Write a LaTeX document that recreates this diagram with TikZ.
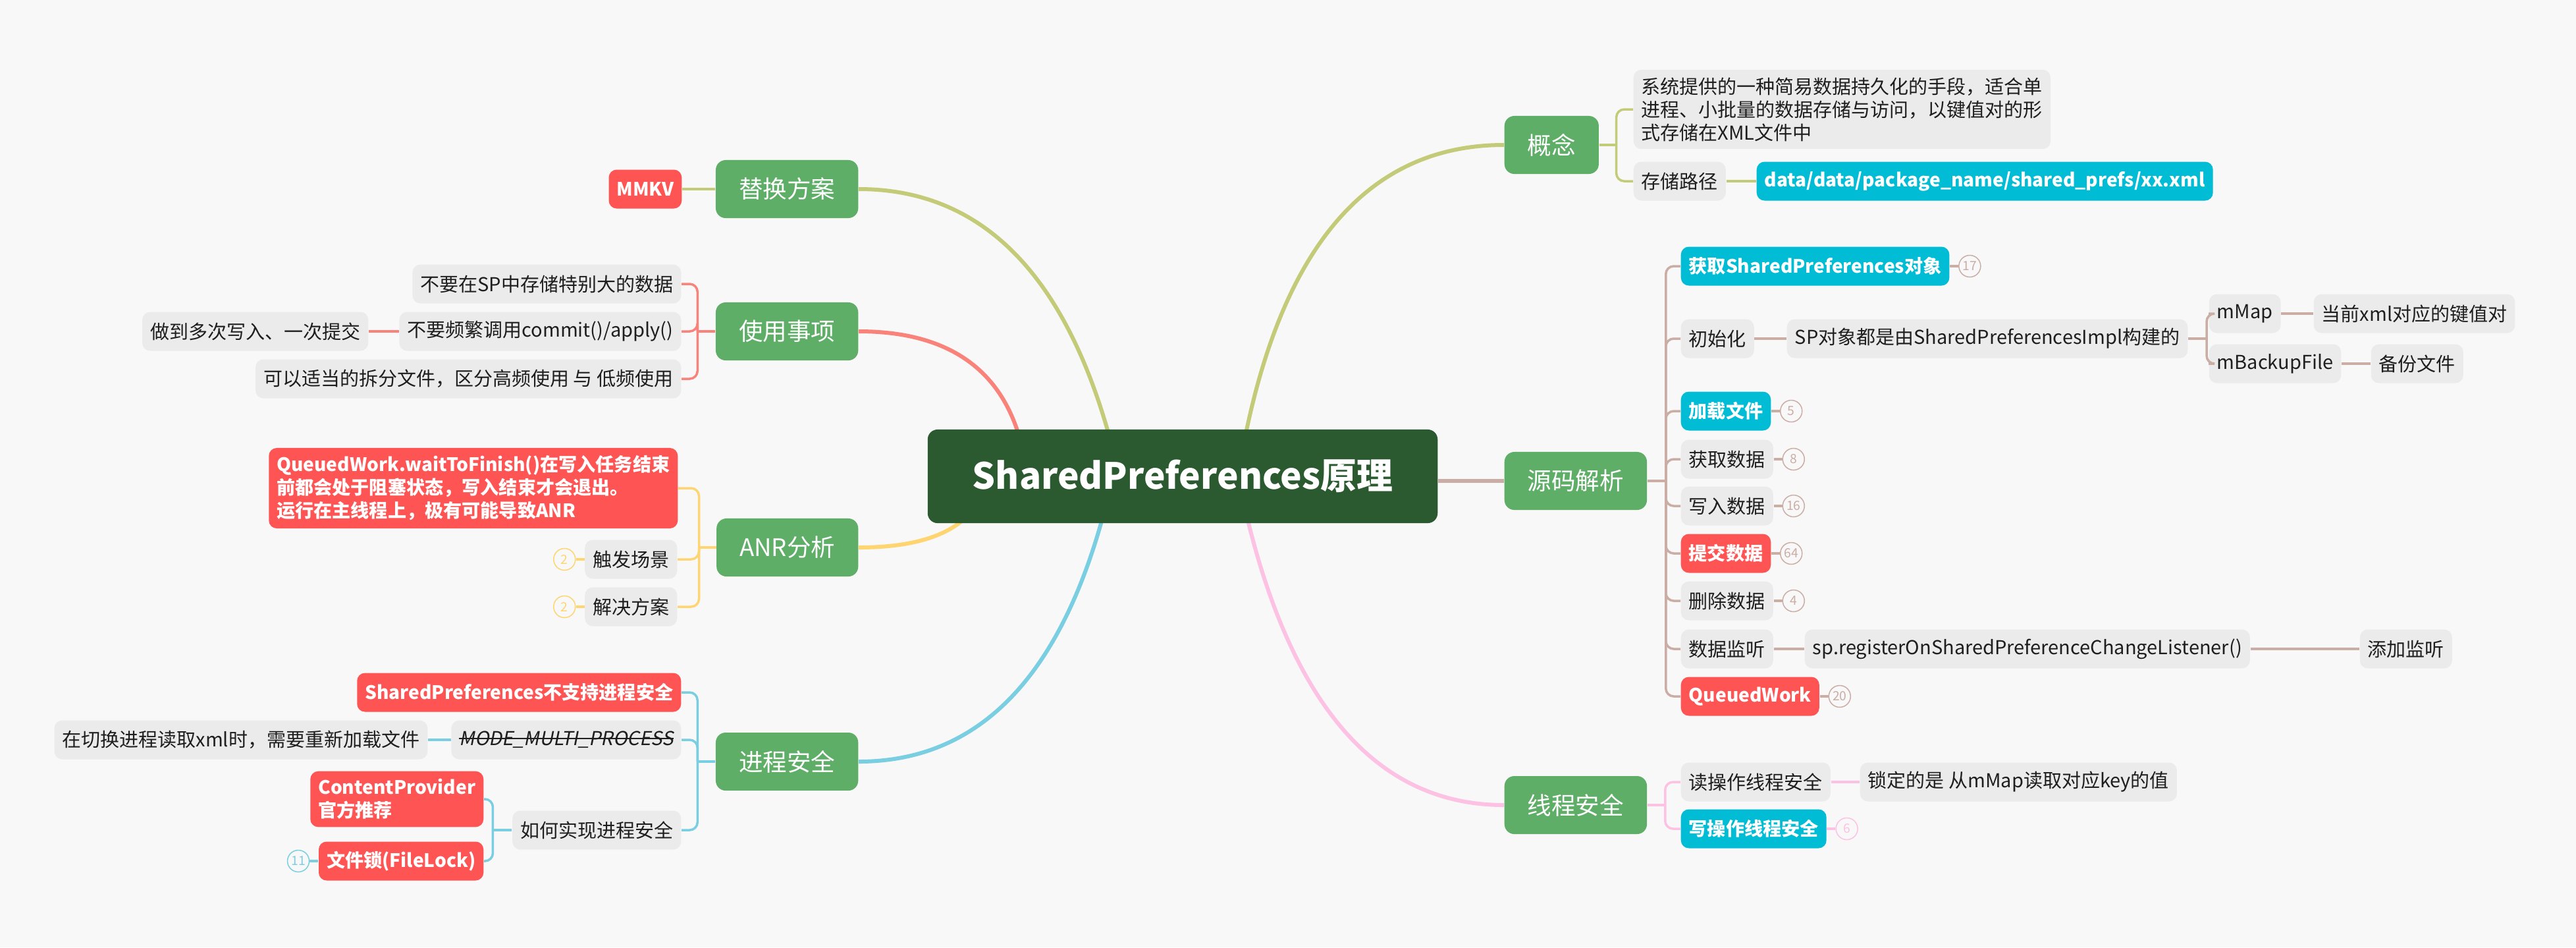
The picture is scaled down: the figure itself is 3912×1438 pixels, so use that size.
\documentclass[tikz,border=0pt]{standalone}
\usepackage{fontspec}
\setmainfont{Noto Sans CJK SC}
\newfontfamily\slantfont[FakeSlant=0.2]{Noto Sans CJK SC}
\usetikzlibrary{positioning,backgrounds}
\definecolor{bgcol}{HTML}{F8F8F8}
\definecolor{rootgreen}{HTML}{2B5A31}
\definecolor{topicgreen}{HTML}{5EAE67}
\definecolor{subgray}{HTML}{EBEBEB}
\definecolor{txtdark}{HTML}{1E1E1E}
\definecolor{hotred}{HTML}{FF5454}
\definecolor{linkcyan}{HTML}{00BCD4}
\definecolor{brolive}{HTML}{C4CB78}
\definecolor{brsalmon}{HTML}{F9837A}
\definecolor{bryellow}{HTML}{FFD572}
\definecolor{brblue}{HTML}{7ACEE2}
\definecolor{brpink}{HTML}{FDC2E3}
\definecolor{brrose}{HTML}{CAADA4}
\begin{document}
\begin{tikzpicture}[x=0.01cm, y=-0.01cm,
	root/.style={fill=rootgreen, text=white, rounded corners=0.15cm, minimum width=7.74cm, minimum height=1.42cm, font=\bfseries\fontsize{15.6}{19}\selectfont},
	topic/.style={fill=topicgreen, text=white, rounded corners=0.15cm, inner xsep=0.35cm, minimum height=0.88cm, font=\fontsize{10.4}{12}\selectfont},
	sub/.style={fill=subgray, text=txtdark, rounded corners=0.12cm, inner xsep=0.12cm, minimum height=0.59cm, align=left, font=\fontsize{8.25}{9.96}\selectfont},
	hot/.style={sub, fill=hotred, text=white, font=\bfseries\fontsize{8}{9.96}\selectfont},
	link/.style={sub, fill=linkcyan, text=white, font=\bfseries\fontsize{8}{9.96}\selectfont},
	badge/.style={circle, draw=#1, text=#1, fill=bgcol, line width=0.015cm, minimum size=0.33cm, inner sep=0pt, font=\fontsize{5.5}{6}\selectfont},
	trunk/.style={line width=0.06cm},
	twig/.style={line width=0.035cm, rounded corners=0.12cm}]
	\useasboundingbox (0,0) rectangle (3912,1438);

	\node[root] (root) at (1796,723) {SharedPreferences原理};

	\node[topic, anchor=west] (gn) at (2284,220) {概念};
	\node[topic, anchor=west] (code) at (2284,730) {源码解析};
	\node[topic, anchor=west] (thr) at (2284,1222) {线程安全};
	\node[topic, anchor=east] (alt) at (1304,287) {替换方案};
	\node[topic, anchor=east] (use) at (1304,503) {使用事项};
	\node[topic, anchor=east] (anr) at (1304,831) {ANR分析};
	\node[topic, anchor=east] (proc) at (1304,1156) {进程安全};

	\node[sub, anchor=west] (gndesc) at (2480,166) {系统提供的一种简易数据持久化的手段，适合单\\进程、小批量的数据存储与访问，以键值对的形\\式存储在XML文件中};
	\node[sub, anchor=west] (gnpath) at (2480,275) {存储路径};
	\node[link, anchor=west] (gnval) at (2667,275) {data/data/package\_name/shared\_prefs/xx.xml};

	\node[link, anchor=west] (s1) at (2552,404) {获取SharedPreferences对象};
	\node[sub, anchor=west] (s2) at (2552,514) {初始化};
	\node[sub, anchor=west] (s2a) at (2713,514) {SP对象都是由SharedPreferencesImpl构建的};
	\node[sub, anchor=west] (s2b) at (3354,476) {mMap};
	\node[sub, anchor=west] (s2c) at (3513,476) {当前xml对应的键值对};
	\node[sub, anchor=west] (s2d) at (3354,552) {mBackupFile};
	\node[sub, anchor=west] (s2e) at (3600,552) {备份文件};
	\node[link, anchor=west] (s3) at (2552,624) {加载文件};
	\node[sub, anchor=west] (s4) at (2552,697) {获取数据};
	\node[sub, anchor=west] (s5) at (2552,768) {写入数据};
	\node[hot, anchor=west] (s6) at (2552,840) {提交数据};
	\node[sub, anchor=west] (s7) at (2552,912) {删除数据};
	\node[sub, anchor=west] (s8) at (2552,985) {数据监听};
	\node[sub, anchor=west] (s8a) at (2740,985) {sp.registerOnSharedPreferenceChangeListener()};
	\node[sub, anchor=west] (s8b) at (3583,985) {添加监听};
	\node[hot, anchor=west] (s9) at (2552,1057) {QueuedWork};

	\node[badge=brrose, right=0.13cm of s1] (s1n) {17};
	\node[badge=brrose, right=0.13cm of s3] (s3n) {5};
	\node[badge=brrose, right=0.13cm of s4] (s4n) {8};
	\node[badge=brrose, right=0.13cm of s5] (s5n) {16};
	\node[badge=brrose, right=0.13cm of s6] (s6n) {64};
	\node[badge=brrose, right=0.13cm of s7] (s7n) {4};
	\node[badge=brrose, right=0.13cm of s9] (s9n) {20};

	\node[sub, anchor=west] (t1) at (2552,1187) {读操作线程安全};
	\node[sub, anchor=west] (t1a) at (2824,1187) {锁定的是 从mMap读取对应key的值};
	\node[link, anchor=west] (t2) at (2552,1258) {写操作线程安全};
	\node[badge=brpink, right=0.13cm of t2] (t2n) {6};

	\node[hot, anchor=east] (mmkv) at (1036,287) {MMKV};

	\node[sub, anchor=east] (u1) at (1035,431) {不要在SP中存储特别大的数据};
	\node[sub, anchor=east] (u2) at (1035,503) {不要频繁调用commit()/apply()};
	\node[sub, anchor=east] (u2a) at (560,503) {做到多次写入、一次提交};
	\node[sub, anchor=east] (u3) at (1035,575) {可以适当的拆分文件，区分高频使用 与 低频使用};

	\node[hot, anchor=east] (a1) at (1030,741) {QueuedWork.waitToFinish()在写入任务结束\\前都会处于阻塞状态，写入结束才会退出。\\运行在主线程上，极有可能导致ANR};
	\node[sub, anchor=east] (a2) at (1029,849) {触发场景};
	\node[sub, anchor=east] (a3) at (1029,921) {解决方案};
	\node[badge=bryellow, left=0.13cm of a2] (a2n) {2};
	\node[badge=bryellow, left=0.13cm of a3] (a3n) {2};

	\node[hot, anchor=east] (p1) at (1035,1051) {SharedPreferences不支持进程安全};
	\node[sub, anchor=east] (p2) at (1035,1123) {\slantfont MODE\_MULTI\_PROCESS};
	\draw[txtdark, line width=0.025cm] ([xshift=0.12cm, yshift=0.02cm]p2.west) -- ([xshift=-0.12cm, yshift=0.02cm]p2.east);
	\node[sub, anchor=east] (p2a) at (650,1123) {在切换进程读取xml时，需要重新加载文件};
	\node[sub, anchor=east] (p3) at (1035,1260) {如何实现进程安全};
	\node[hot, anchor=east] (p3a) at (735,1213) {ContentProvider\\官方推荐};
	\node[hot, anchor=east] (p3b) at (735,1307) {文件锁(FileLock)};
	\node[badge=brblue, left=0.13cm of p3b] (p3n) {11};

	\begin{scope}[on background layer]
		\fill[bgcol] (0,0) rectangle (3912,1438);
		\draw[trunk, brolive] ([xshift=-0.96cm]root.center) .. controls (1634,432) and (1502,287) .. (alt.east);
		\draw[trunk, brsalmon] ([xshift=-2.36cm]root.center) .. controls (1543,576) and (1457,503) .. (use.east);
		\draw[trunk, brolive] ([xshift=0.84cm]root.center) .. controls (1934,388) and (2069,220) .. (gn.west);
		\draw[trunk, bryellow] ([xshift=-2.96cm]root.center) .. controls (1487,795) and (1421,831) .. (anr.east);
		\draw[trunk, brblue] ([xshift=-1.06cm]root.center) .. controls (1626,1012) and (1497,1156) .. (proc.east);
		\draw[trunk, brpink] ([xshift=0.84cm]root.center) .. controls (1947,1056) and (2082,1222) .. (thr.west);
		\draw[trunk, brrose] (root.east |- code.west) -- (code.west);
	\end{scope}

	\draw[twig, brolive] (gn.east) -- ++(26,0) coordinate (gnj);
	\draw[twig, brolive] (gnj) |- (gndesc.west);
	\draw[twig, brolive] (gnj) |- (gnpath.west);
	\draw[twig, brolive] (gnpath) -- (gnval);

	\draw[twig, brrose] (code.east) -- ++(28,0) coordinate (codej);
	\foreach \n in {s1,s2,s3,s4,s5,s6,s7,s8,s9}
		\draw[twig, brrose] (codej) |- (\n.west);
	\draw[twig, brrose] (s2) -- (s2a);
	\draw[twig, brrose] (s2a.east) -- ++(28,0) coordinate (s2j);
	\draw[twig, brrose] (s2j) |- (s2b.west);
	\draw[twig, brrose] (s2j) |- (s2d.west);
	\draw[twig, brrose] (s2b) -- (s2c);
	\draw[twig, brrose] (s2d) -- (s2e);
	\draw[twig, brrose] (s8) -- (s8a);
	\draw[twig, brrose] (s8a) -- (s8b);
	\foreach \n in {s1,s3,s4,s5,s6,s7,s9}
		\draw[twig, brrose] (\n) -- (\n n);

	\draw[twig, brpink] (thr.east) -- ++(27,0) coordinate (thrj);
	\draw[twig, brpink] (thrj) |- (t1.west);
	\draw[twig, brpink] (thrj) |- (t2.west);
	\draw[twig, brpink] (t1) -- (t1a);
	\draw[twig, brpink] (t2) -- (t2n);

	\draw[twig, brolive] (alt) -- (mmkv);

	\draw[twig, brsalmon] (use.west) -- ++(-27,0) coordinate (usej);
	\draw[twig, brsalmon] (usej) |- (u1.east);
	\draw[twig, brsalmon] (usej) |- (u2.east);
	\draw[twig, brsalmon] (usej) |- (u3.east);
	\draw[twig, brsalmon] (u2) -- (u2a);

	\draw[twig, bryellow] (anr.west) -- ++(-26,0) coordinate (anrj);
	\draw[twig, bryellow] (anrj) |- (a1.east);
	\draw[twig, bryellow] (anrj) |- (a2.east);
	\draw[twig, bryellow] (anrj) |- (a3.east);
	\draw[twig, bryellow] (a2) -- (a2n);
	\draw[twig, bryellow] (a3) -- (a3n);

	\draw[twig, brblue] (proc.west) -- ++(-27,0) coordinate (procj);
	\draw[twig, brblue] (procj) |- (p1.east);
	\draw[twig, brblue] (procj) |- (p2.east);
	\draw[twig, brblue] (procj) |- (p3.east);
	\draw[twig, brblue] (p2) -- (p2a);
	\draw[twig, brblue] (p3.west) -- ++(-29,0) coordinate (p3j);
	\draw[twig, brblue] (p3j) |- (p3a.east);
	\draw[twig, brblue] (p3j) |- (p3b.east);
	\draw[twig, brblue] (p3b) -- (p3n);
\end{tikzpicture}
\end{document}
